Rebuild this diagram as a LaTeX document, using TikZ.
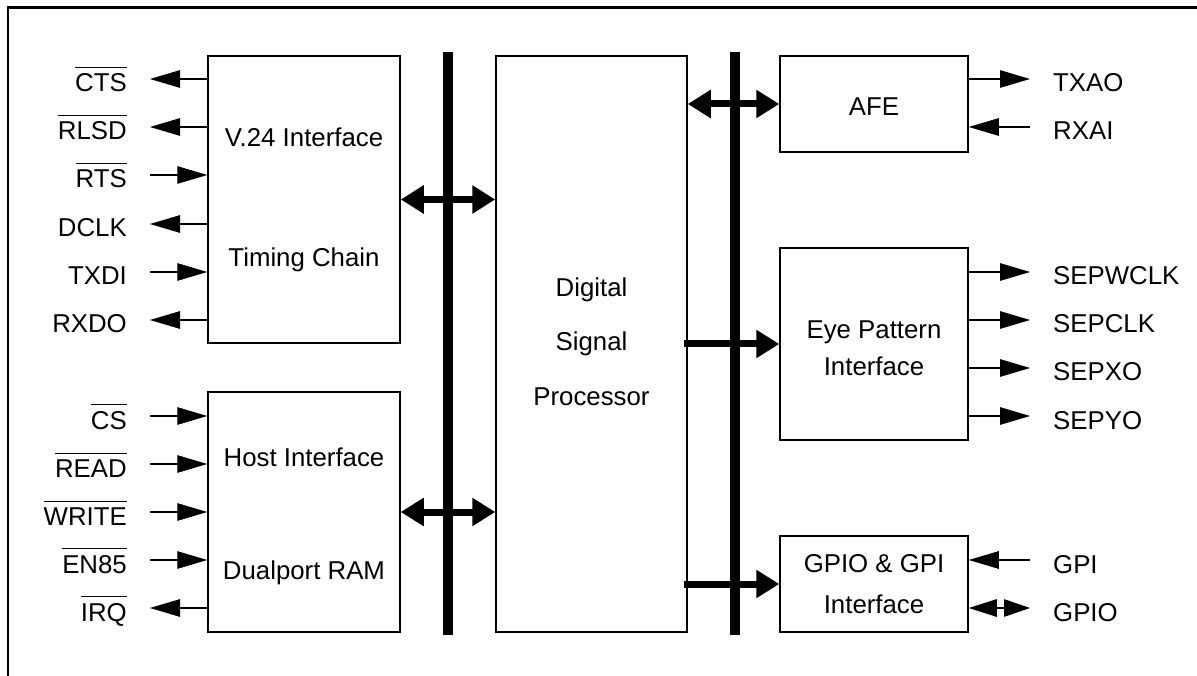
\documentclass[tikz,border=0pt]{standalone}
\usepackage{fontspec}
\setmainfont{Liberation Sans}
\usepackage{tikz}
\usetikzlibrary{arrows.meta}
\newcommand{\ovl}[1]{\vbox{\hrule height 1.2pt\kern 5.5pt\hbox{#1}}}
\tikzset{
  bx/.style={draw, line width=1.5pt, inner sep=0pt},
  txt/.style={font=\fontsize{25.8}{30}\selectfont, inner sep=0pt, anchor=base},
  lbr/.style={txt, anchor=base east},
  lbl/.style={txt, anchor=base west},
  sig/.style={-{Triangle[length=30pt,width=17.5pt]}, line width=1.2pt},
  dsig/.style={{Triangle[length=28pt,width=17.5pt]}-{Triangle[length=26pt,width=17.5pt]}, line width=1.2pt},
  bus/.style={line width=9.5pt},
  bar/.style={-{Triangle[length=23pt,width=27pt]}, line width=7pt, shorten <=-4pt},
  dbar/.style={{Triangle[length=23pt,width=27pt]}-{Triangle[length=23pt,width=27pt]}, line width=7pt},
  frm/.style={line width=2.5pt}
}

\begin{document}
\begin{tikzpicture}[x=1pt, y=-1pt]
        \useasboundingbox (0,0) rectangle (1197,676);
        \draw[frm] (8,690) -- (8,7.3) -- (1210,7.3);
        % blocks
        \node[bx, minimum width=192pt, minimum height=287pt] (v24) at (304,199.5) {};
        \node[bx, minimum width=192pt, minimum height=240pt] (host) at (304,512) {};
        \node[bx, minimum width=191pt, minimum height=576pt] (dsp) at (591.5,344) {};
        \node[bx, minimum width=188pt, minimum height=96pt] (afe) at (874,104) {};
        \node[bx, minimum width=188pt, minimum height=192pt] (eye) at (874,344) {};
        \node[bx, minimum width=188pt, minimum height=96pt] (gpio) at (874,584) {};
        \node[txt] (v24a) at (304,147) {V.24 Interface};
        \node[txt] (v24b) at (304,267) {Timing Chain};
        \node[txt] (hosta) at (304,466) {Host Interface};
        \node[txt] (hostb) at (304,579) {Dualport RAM};
        \node[txt] (dspa) at (591.5,297) {Digital};
        \node[txt] (dspb) at (591.5,351) {Signal};
        \node[txt] (dspc) at (591.5,405) {Processor};
        \node[txt] (afea) at (874,116) {AFE};
        \node[txt] (eyea) at (874,338) {Eye Pattern};
        \node[txt] (eyeb) at (874,375) {Interface};
        \node[txt] (gpioa) at (874,572) {GPIO \& GPI};
        \node[txt] (gpiob) at (874,613) {Interface};
        % buses
        \coordinate (b1t) at (448,52);
        \coordinate (b1b) at (448,635);
        \coordinate (b2t) at (735,52);
        \coordinate (b2b) at (735,635);
        \draw[bus] (b1t) -- (b1b);
        \draw[bus] (b2t) -- (b2b);
        \draw[dbar] (v24.east) -- (v24.east -| dsp.west);
        \draw[dbar] (host.east) -- (host.east -| dsp.west);
        \draw[dbar] (afe.west) -- (afe.west -| dsp.east);
        \draw[bar] (dsp.east) -- (eye.west);
        \draw[bar] (dsp.east |- gpio.west) -- (gpio.west);
        % V.24 signals
        \coordinate (cts-e) at (150,79);
        \coordinate (rlsd-e) at (150,127);
        \coordinate (rts-e) at (150,175);
        \coordinate (dclk-e) at (150,224);
        \coordinate (txdi-e) at (150,272);
        \coordinate (rxdo-e) at (150,320);
        \node[lbr] (cts) at (127,92) {\ovl{CTS}};
        \node[lbr] (rlsd) at (127,140) {\ovl{RLSD}};
        \node[lbr] (rts) at (127,188) {\ovl{RTS}};
        \node[lbr] (dclk) at (127,237) {DCLK};
        \node[lbr] (txdi) at (127,285) {TXDI};
        \node[lbr] (rxdo) at (127,333) {RXDO};
        \draw[sig] (cts-e -| v24.west) -- (cts-e);
        \draw[sig] (rlsd-e -| v24.west) -- (rlsd-e);
        \draw[sig] (rts-e) -- (rts-e -| v24.west);
        \draw[sig] (dclk-e -| v24.west) -- (dclk-e);
        \draw[sig] (txdi-e) -- (txdi-e -| v24.west);
        \draw[sig] (rxdo-e -| v24.west) -- (rxdo-e);
        % host signals
        \coordinate (cs-e) at (150,416);
        \coordinate (read-e) at (150,464);
        \coordinate (write-e) at (150,512);
        \coordinate (en-e) at (150,560);
        \coordinate (irq-e) at (150,608);
        \node[lbr] (cs) at (127,429) {\ovl{CS}};
        \node[lbr] (read) at (127,477) {\ovl{READ}};
        \node[lbr] (write) at (127,525) {\ovl{WRITE}};
        \node[lbr] (en) at (127,573) {\ovl{EN85}};
        \node[lbr] (irq) at (127,621) {\ovl{IRQ}};
        \draw[sig] (cs-e) -- (cs-e -| host.west);
        \draw[sig] (read-e) -- (read-e -| host.west);
        \draw[sig] (write-e) -- (write-e -| host.west);
        \draw[sig] (en-e) -- (en-e -| host.west);
        \draw[sig] (irq-e -| host.west) -- (irq-e);
        % right side signals
        \coordinate (txao-e) at (1030,79);
        \coordinate (rxai-e) at (1030,127);
        \coordinate (sepw-e) at (1030,272);
        \coordinate (sepc-e) at (1030,320);
        \coordinate (sepx-e) at (1030,368);
        \coordinate (sepy-e) at (1030,416);
        \coordinate (gpi-e) at (1030,560);
        \coordinate (gpo-e) at (1030,608);
        \node[lbl] (txao) at (1053,92) {TXAO};
        \node[lbl] (rxai) at (1053,140) {RXAI};
        \node[lbl] (sepw) at (1053,285) {SEPWCLK};
        \node[lbl] (sepc) at (1053,333) {SEPCLK};
        \node[lbl] (sepx) at (1053,381) {SEPXO};
        \node[lbl] (sepy) at (1053,429) {SEPYO};
        \node[lbl] (gpi) at (1053,573) {GPI};
        \node[lbl] (gpo) at (1053,621) {GPIO};
        \draw[sig] (txao-e -| afe.east) -- (txao-e);
        \draw[sig] (rxai-e) -- (rxai-e -| afe.east);
        \draw[sig] (sepw-e -| eye.east) -- (sepw-e);
        \draw[sig] (sepc-e -| eye.east) -- (sepc-e);
        \draw[sig] (sepx-e -| eye.east) -- (sepx-e);
        \draw[sig] (sepy-e -| eye.east) -- (sepy-e);
        \draw[sig] (gpi-e) -- (gpi-e -| gpio.east);
        \draw[dsig] (gpo-e -| gpio.east) -- (gpo-e);
      \end{tikzpicture}
\end{document}
